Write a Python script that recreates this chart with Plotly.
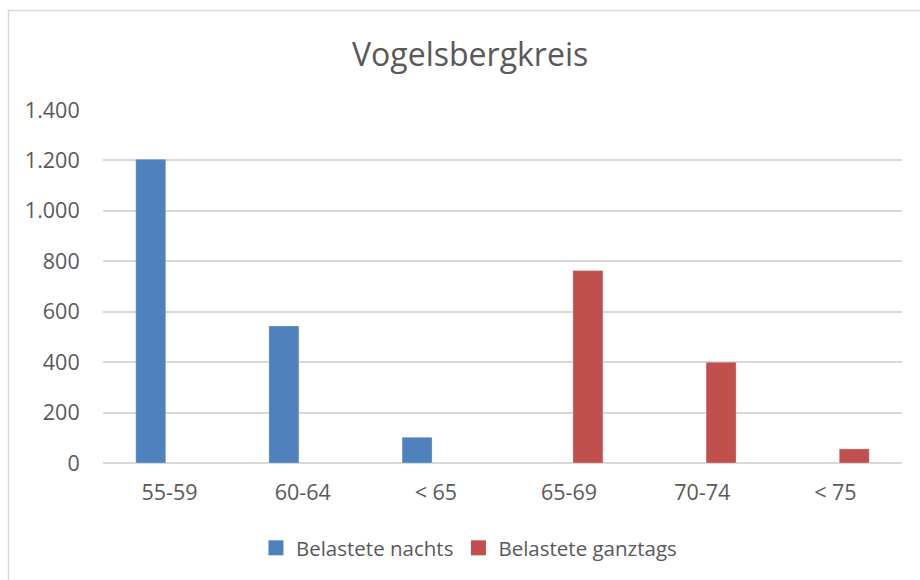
import plotly.graph_objects as go

# Age bands on the category axis
categories = ["55-59", "60-64", "< 65", "65-69", "70-74", "< 75"]

# Affected residents per band (night-time and all-day exposure)
belastete_nachts = [1205, 543, 102, None, None, None]
belastete_ganztags = [None, None, None, 763, 400, 56]

series_names = ["Belastete nachts", "Belastete ganztags"]
series_colors = ["#4F81BD", "#C0504D"]

y_ticks = [0, 200, 400, 600, 800, 1000, 1200, 1400]

TEXT = "#595959"
GRID = "#D9D9D9"
FONT = "Open Sans"
EDGE = dict(color="rgba(255,255,255,0.35)", width=0.8)

fig = go.Figure()
for name, values, color in zip(series_names, [belastete_nachts, belastete_ganztags], series_colors):
    fig.add_trace(go.Bar(x=categories, y=values, name=name, showlegend=False,
                         marker=dict(color=color, line=EDGE)))

# legend keys as larger square swatches
for name, color in zip(series_names, series_colors):
    fig.add_trace(go.Scatter(x=[None], y=[None], mode="markers", name=name,
                             marker=dict(symbol="square", size=15, color=color)))

# chart-area frame
fig.add_shape(type="rect", xref="paper", yref="paper",
              x0=-0.1183, x1=1.05, y0=-0.36, y1=1.2819,
              line=dict(color=GRID, width=1.5), fillcolor="rgba(0,0,0,0)", layer="below")

fig.update_layout(
    width=920, height=580,
    margin=dict(l=103, r=18, t=110, b=117),
    paper_bgcolor="white", plot_bgcolor="white",
    separators=",.",
    barmode="group", bargap=0.434, bargroupgap=0.204,
    font=dict(family=FONT, color=TEXT, size=22),
    title=dict(text="Vogelsbergkreis", x=0.511, xanchor="center",
               y=0.905, yanchor="middle", yref="container",
               font=dict(family=FONT, size=32, color=TEXT)),
    showlegend=True,
    legend=dict(orientation="h", x=0.458, xanchor="center", y=-0.2408, yanchor="middle",
                font=dict(family=FONT, size=20.5, color=TEXT), itemclick=False,
                itemwidth=30),
    xaxis=dict(showgrid=False, showline=False, zeroline=False,
               ticks="outside", ticklen=10, tickcolor="rgba(0,0,0,0)",
               tickfont=dict(size=21.5, color=TEXT)),
    yaxis=dict(range=[0, 1400], tickvals=y_ticks, separatethousands=True,
               showgrid=True, gridcolor=GRID, gridwidth=1.5,
               zeroline=True, zerolinecolor=GRID, zerolinewidth=1.5,
               showline=False, ticks="outside", ticklen=18, tickcolor="rgba(0,0,0,0)",
               tickfont=dict(size=21.5, color=TEXT)),
)

fig.write_html("out.html")
